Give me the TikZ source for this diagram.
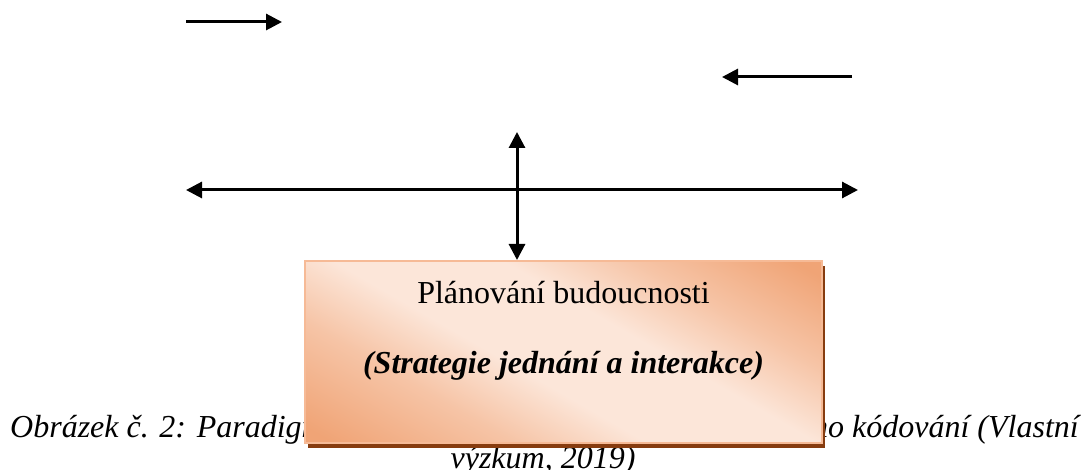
\documentclass[tikz,border=0pt]{standalone}
\usepackage{fontspec}
\setmainfont{Liberation Serif}
\usetikzlibrary{arrows.meta,shadows}
\definecolor{orangeD}{RGB}{240,164,118}
\definecolor{orangeM}{RGB}{246,196,166}
\definecolor{orangeL}{RGB}{252,230,217}
\definecolor{boxline}{RGB}{246,186,150}
\definecolor{shadowbrown}{RGB}{135,60,15}
\pgfdeclareverticalshading{boxshade}{100bp}{color(0bp)=(orangeD); color(18bp)=(orangeD); color(33bp)=(orangeM); color(44bp)=(orangeL); color(58bp)=(orangeL); color(69bp)=(orangeM); color(82bp)=(orangeD); color(100bp)=(orangeD)}
\tikzset{
  arr/.style={line width=3pt, -{Triangle[length=16pt,width=16pt]}},
  darr/.style={line width=3pt, {Triangle[length=16pt,width=16pt]}-{Triangle[length=16pt,width=16pt]}},
  captxt/.style={font=\fontsize{32}{36.8}\selectfont\itshape, inner sep=0pt},
  boxtxt/.style={font=\fontsize{32}{36.8}\selectfont, inner sep=0pt},
  boxtxtbf/.style={font=\fontsize{32}{36.8}\selectfont\bfseries\itshape, inner sep=0pt},
  boxstyle/.style={draw=boxline, line width=2pt, minimum width=517pt, minimum height=182pt,
    inner sep=0pt, shading=boxshade, shading angle=-30,
    drop shadow={shadow xshift=3pt, shadow yshift=-5pt, fill=shadowbrown, opacity=1, draw=none}}
}
\begin{document}
\begin{tikzpicture}[x=1pt,y=-1pt]
\useasboundingbox (0,0) rectangle (1084,470);
\node[captxt, anchor=base west] (c1) at (10,437) {Obrázek č. 2: Paradigm};
\node[captxt, anchor=base east] (c2) at (1079,437) {ho kódování (Vlastní};
\node[captxt, anchor=base] (c3) at (543,468) {výzkum, 2019)};
\node[boxstyle] (box) at (563.5,352) {};
\node[boxtxt, anchor=base] (t1) at (563.5,303) {Plánování budoucnosti};
\node[boxtxtbf, anchor=base] (t2) at (563.5,373) {(Strategie jednání a interakce)};
\coordinate (a1s) at (186,22);
\coordinate (a1e) at (282,22);
\coordinate (a2s) at (852,77);
\coordinate (a2e) at (722,77);
\coordinate (hl) at (186,190);
\coordinate (hr) at (858,190);
\coordinate (vt) at (517,132);
\draw[arr] (a1s) -- (a1e);
\draw[arr] (a2s) -- (a2e);
\draw[darr] (hl) -- (hr);
\draw[darr] (vt) -- (vt |- box.north);
\end{tikzpicture}
\end{document}
